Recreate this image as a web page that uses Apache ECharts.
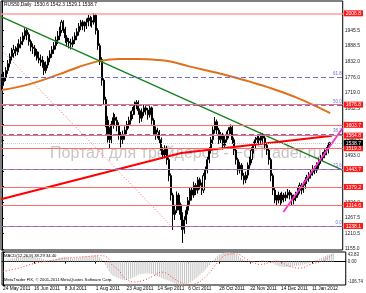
<!DOCTYPE html>
<html><head><meta charset="utf-8">
<script src="https://cdn.jsdelivr.net/npm/echarts@6/dist/echarts.min.js"></script>
<style>html,body{margin:0;padding:0;background:#fff}#c{width:366px;height:293px}</style>
</head><body><div id="c"></div>
<script>
// ---- data ----
const symbolTitle = "RUS50,Daily  1530.6 1542.3 1529.1 1538.7";
const dateLabels = ["24 May 2011","16 Jun 2011","8 Jul 2011","1 Aug 2011","23 Aug 2011","14 Sep 2011","6 Oct 2011","28 Oct 2011","22 Nov 2011","14 Dec 2011","11 Jan 2012"];
const dateTickIdx = [0,16,32,48,64,80,96,112,128,144,160];
const priceTicks = [1945.5,1888.5,1832.0,1776.0,1719.0,1662.5,1606.0,1549.5,1493.0,1436.5,1380.5,1324.0,1267.5,1210.5,1155.0];
const levelLines = [2006.8,1676.8,1603.7,1564.8,1519.3,1443.7,1379.2,1314.6,1238.1];
const fibLevels = [0.0,23.6,38.2,50.0,61.8];
const fibPrices = [1238.1,1443.7,1570.9,1673.7,1776.5];
const lastPrice = 1538.7;
// [open, close, low, high]
const ohlc = [
[1745,1760,1728,1788],[1760,1775,1745,1795],[1775,1800,1762,1812],[1800,1825,1788,1838],[1825,1850,1812,1862],
[1850,1862,1836,1882],[1862,1875,1846,1893],[1875,1870,1852,1888],[1870,1882,1856,1898],[1882,1895,1866,1913],
[1895,1905,1880,1922],[1905,1925,1892,1938],[1925,1945,1912,1953],[1945,1930,1910,1952],[1930,1905,1890,1938],
[1905,1885,1870,1912],[1885,1880,1860,1898],[1880,1868,1850,1892],[1868,1855,1836,1878],[1855,1845,1826,1868],
[1845,1838,1816,1858],[1838,1830,1810,1852],[1830,1800,1784,1838],[1800,1820,1790,1833],[1820,1845,1808,1853],
[1845,1860,1830,1873],[1860,1875,1846,1888],[1875,1890,1860,1903],[1890,1910,1876,1923],[1910,1925,1896,1943],
[1925,1945,1910,1958],[1945,1975,1936,1983],[1975,1950,1936,1982],[1950,1918,1900,1958],[1918,1905,1886,1928],
[1905,1900,1880,1918],[1900,1895,1876,1915],[1895,1910,1884,1923],[1910,1925,1896,1938],[1925,1940,1910,1953],
[1940,1960,1926,1972],[1960,1975,1946,1983],[1975,1965,1946,1982],[1965,1962,1940,1978],[1962,1975,1950,1988],
[1975,1990,1960,2002],[1990,1980,1960,1998],[1980,1975,1955,1993],[1975,2000,1966,2008],[2000,1945,1930,2005],
[1945,1890,1875,1953],[1890,1840,1820,1898],[1840,1765,1745,1848],[1765,1695,1675,1772],[1695,1620,1595,1705],
[1620,1570,1540,1635],[1570,1550,1520,1595],[1550,1605,1535,1618],[1605,1630,1590,1648],[1630,1620,1600,1643],
[1620,1600,1580,1633],[1600,1565,1550,1613],[1565,1550,1522,1578],[1550,1565,1535,1583],[1565,1585,1550,1598],
[1585,1605,1570,1618],[1605,1620,1590,1633],[1620,1640,1605,1653],[1640,1655,1625,1668],[1655,1675,1640,1688],
[1675,1685,1660,1693],[1685,1655,1640,1692],[1655,1628,1610,1663],[1628,1650,1615,1663],[1650,1665,1635,1678],
[1665,1657,1640,1678],[1657,1640,1622,1665],[1640,1665,1630,1678],[1665,1620,1605,1670],[1620,1585,1570,1628],
[1585,1568,1550,1598],[1568,1578,1555,1593],[1578,1550,1535,1585],[1550,1512,1495,1558],[1512,1495,1480,1523],
[1495,1520,1483,1530],[1520,1478,1460,1528],[1478,1420,1400,1485],[1420,1350,1330,1428],[1350,1280,1224,1358],
[1280,1295,1260,1315],[1295,1350,1285,1363],[1350,1315,1295,1358],[1315,1280,1260,1323],[1280,1225,1177,1288],
[1225,1260,1210,1273],[1260,1295,1245,1308],[1295,1330,1280,1343],[1330,1368,1315,1378],[1368,1350,1330,1378],
[1350,1385,1340,1398],[1385,1368,1350,1393],[1368,1405,1355,1415],[1405,1385,1370,1413],[1385,1368,1350,1395],
[1368,1420,1357,1430],[1420,1440,1405,1453],[1440,1478,1428,1488],[1478,1512,1465,1523],[1512,1550,1500,1560],
[1550,1585,1535,1598],[1585,1615,1572,1632],[1615,1585,1570,1623],[1585,1550,1535,1593],[1550,1568,1538,1578],
[1568,1530,1515,1575],[1530,1550,1520,1563],[1550,1568,1540,1580],[1568,1585,1555,1595],[1585,1595,1570,1605],
[1595,1550,1535,1600],[1550,1512,1495,1558],[1512,1478,1460,1520],[1478,1440,1423,1485],[1440,1458,1428,1470],
[1458,1420,1405,1465],[1420,1405,1388,1430],[1405,1422,1393,1435],[1422,1458,1410,1468],[1458,1478,1445,1488],
[1478,1512,1465,1523],[1512,1530,1500,1543],[1530,1550,1518,1560],[1550,1556,1535,1568],[1556,1548,1530,1565],
[1548,1568,1538,1576],[1568,1556,1540,1574],[1556,1530,1515,1563],[1530,1512,1495,1538],[1512,1478,1460,1518],
[1478,1420,1400,1485],[1420,1368,1350,1428],[1368,1340,1320,1375],[1340,1332,1312,1350],[1332,1350,1320,1362],
[1350,1332,1314,1358],[1332,1350,1320,1362],[1350,1340,1324,1358],[1340,1350,1328,1362],[1350,1360,1338,1372],
[1360,1350,1334,1368],[1350,1332,1312,1358],[1332,1340,1316,1352],[1340,1350,1328,1362],[1350,1368,1340,1378],
[1368,1385,1355,1395],[1385,1368,1352,1393],[1368,1385,1358,1398],[1385,1404,1373,1415],[1404,1410,1390,1423],
[1410,1422,1398,1433],[1422,1432,1410,1443],[1432,1446,1420,1458],[1446,1440,1425,1455],[1440,1458,1430,1468],
[1458,1476,1445,1485],[1476,1484,1463,1495],[1484,1495,1473,1505],[1495,1506,1483,1515],[1506,1512,1494,1523],
[1512,1530,1500,1540],[1530.6,1538.7,1529.1,1542.3]
];
// moving average (orange) read at sample bars: [bar, price]
const maPts = [[0,1730],[14.5,1751],[30,1787],[40,1813],[50.6,1834],[61,1842],[71,1842],[81.5,1838],[89,1831],[97,1816],[112.5,1791],[126,1766],[138.3,1740],[153.8,1701],[171,1646]];
const greenLine = [[-0.5,1995],[177.5,1440]];
const redLine = [[-0.5,1335],[93.4,1502],[172,1564]];
const magentaLine = [[146.6,1289],[177.5,1592]];
const fibDiagonal = [[-0.5,1876],[89.3,1230]];
// MACD main (histogram), one per bar
const macdHist = [
2,5,8,10,13,15,17,19,20,21,
22,24,26,27,26,24,22,20,18,16,
14,12,8,6,6,7,9,11,13,16,
19,22,22,20,18,16,15,15,16,18,
20,22,23,24,25,26,27,27,28,26,
20,12,0,-14,-30,-45,-58,-64,-68,-72,
-76,-80,-84,-85,-84,-82,-78,-74,-70,-65,
-60,-58,-57,-55,-54,-54,-55,-55,-58,-62,
-66,-70,-74,-78,-82,-85,-88,-92,-96,-100,
-102,-104,-106,-106,-105,-104,-100,-95,-88,-82,
-75,-68,-60,-52,-45,-36,-26,-15,-4,6,
16,25,32,36,39,41,43,43,42,40,
36,30,24,18,12,6,2,-2,-4,-4,
-2,0,2,4,6,6,5,3,0,-4,
-9,-14,-18,-22,-24,-25,-25,-24,-23,-22,
-21,-20,-19,-18,-16,-14,-12,-10,-8,-5,
-2,2,6,10,14,18,22,26,29,32,
35,38.29
];
// MACD signal (red dotted) read at sample bars
const signalPts = [[0,-45],[8,-30],[16,-9],[25,5],[33,16],[42,22],[50,27],[54,20],[56,-10],[60,-40],[63,-75],[68,-93],[73,-85],[78,-65],[82,-48],[85,-55],[88,-75],[92,-95],[95,-106],[100,-100],[106,-60],[111,-6],[116,32],[121,35],[126,11],[130,-5],[133,-13],[138,-5],[142,3],[148,-20],[154,-30],[159,-13],[166,5],[171,34.4]];
const macdTicks = [43.83, 0, -106.74];

// ---- chart ----
const FONT = 'Liberation Sans, Arial, sans-serif';
const chart = echarts.init(document.getElementById('c'), null, {renderer:'canvas'});
const X0 = -0.5, X1 = 177.5;
const PMIN = 1151.4, PMAX = 2051.3;

const levelMarks = levelLines.map(v => ({yAxis: v, lineStyle: {color: v === 2006.8 ? '#ff9c9c' : '#ff6b6b', width: v === 2006.8 ? 1.5 : 1, type: 'solid'}}));
const fibMarks = fibPrices.map((v, k) => ({yAxis: v, lineStyle: {color: '#6f6fd2', width: 1, type: [5, 3]},
  label: {show: true, position: 'insideEndTop', formatter: fibLevels[k].toFixed(1), color: '#6f6fd2', fontSize: 4.5, fontFamily: FONT, distance: 1}}));
const bidMark = [{yAxis: lastPrice, lineStyle: {color: '#c8c8c8', width: 1, type: 'dotted'}}];

const option = {
  animation: false,
  backgroundColor: '#fff',
  grid: [
    {left: 1, right: 20, top: 1, bottom: 43, show: true, borderColor: '#000', borderWidth: 1, backgroundColor: '#fff'},
    {left: 1, right: 20, top: 252, bottom: 8, show: true, borderColor: '#000', borderWidth: 1, backgroundColor: '#fff'}
  ],
  xAxis: [
    {type: 'value', gridIndex: 0, min: X0, max: X1, show: false},
    {type: 'value', gridIndex: 1, min: X0, max: X1,
     axisLine: {show: true, lineStyle: {color: '#000'}},
     axisTick: {show: true, length: 2, customValues: dateTickIdx, lineStyle: {color: '#000'}},
     axisLabel: {customValues: dateTickIdx, formatter: v => dateLabels[dateTickIdx.indexOf(v)] || '', align: 'left', margin: 1.5, fontSize: 4.8, color: '#000', fontFamily: FONT},
     splitLine: {show: false}}
  ],
  yAxis: [
    {type: 'value', gridIndex: 0, position: 'right', min: PMIN, max: PMAX,
     axisLine: {show: true, lineStyle: {color: '#000'}},
     axisTick: {show: true, length: 2, customValues: priceTicks, lineStyle: {color: '#000'}},
     axisLabel: {customValues: priceTicks, formatter: v => v.toFixed(1), margin: 2, fontSize: 5, color: '#222', fontFamily: FONT},
     splitLine: {show: false}},
    {type: 'value', gridIndex: 0, position: 'right', min: PMIN, max: PMAX, z: 5,
     axisLine: {show: false}, axisTick: {show: false}, splitLine: {show: false},
     axisLabel: {customValues: levelLines.concat([lastPrice]), margin: 1,
       formatter: v => (v === lastPrice ? '{k|' : '{r|') + v.toFixed(1) + '}',
       rich: {
         r: {backgroundColor: '#ff1a1a', color: '#fff', fontSize: 5, fontFamily: FONT, padding: [1, 2, 0, 2]},
         k: {backgroundColor: '#000', color: '#fff', fontSize: 5, fontFamily: FONT, padding: [1, 2, 0, 2]}
       }}},
    {type: 'value', gridIndex: 1, position: 'right', min: -106.74, max: 43.83,
     axisLine: {show: true, lineStyle: {color: '#000'}},
     axisTick: {show: true, length: 2, customValues: macdTicks, lineStyle: {color: '#000'}},
     axisLabel: {customValues: macdTicks, margin: 2,
       formatter: v => v > 0 ? '{t|' + v.toFixed(2) + '}' : (v < 0 ? '{b|' + v.toFixed(2) + '}' : '{m|' + v.toFixed(2) + '}'),
       rich: {
         t: {fontSize: 4.5, color: '#222', fontFamily: FONT, padding: [6, 0, 0, 0]},
         m: {fontSize: 4.5, color: '#222', fontFamily: FONT},
         b: {fontSize: 4.5, color: '#222', fontFamily: FONT, padding: [0, 0, 6, 0]}
       }},
     splitLine: {show: false}}
  ],
  graphic: [
    {type: 'text', left: 4, top: 2, z: 10, style: {text: symbolTitle, fontSize: 4.8, fill: '#000', fontFamily: FONT}},
    {type: 'text', left: 50, top: 146, z: 1, style: {text: 'Портал для трейдеров - ForTrader.ru', fontSize: 16, fill: 'rgba(150,150,150,0.55)', fontFamily: FONT}},
    {type: 'text', left: 4, top: 254, z: 10, style: {text: 'MACD(12,26,9) 38.29 34.40', fontSize: 4.2, fill: '#000', fontFamily: FONT}},
    {type: 'text', left: 4, top: 278, z: 10, style: {text: 'MetaTrader FIX, © 2001-2011 MetaQuotes Software Corp.', fontSize: 4.2, fill: '#000', fontFamily: FONT}}
  ],
  series: [
    {type: 'line', xAxisIndex: 0, yAxisIndex: 0, data: [], silent: true,
     markLine: {silent: true, symbol: ['none', 'none'], animation: false, label: {show: false},
       data: levelMarks.concat(fibMarks, bidMark)}},
    {type: 'line', xAxisIndex: 0, yAxisIndex: 0, data: fibDiagonal, symbol: 'none', silent: true,
     lineStyle: {color: '#ff6a6a', width: 1, type: [1, 2]}},
    {type: 'line', xAxisIndex: 0, yAxisIndex: 0, data: maPts, symbol: 'none', smooth: 0.4, silent: true,
     lineStyle: {color: '#e0701e', width: 2}},
    {type: 'candlestick', xAxisIndex: 0, yAxisIndex: 0, barWidth: 1.6, silent: true,
     encode: {x: 0, y: [1, 2, 3, 4]},
     data: ohlc.map((r, i) => [i, r[0], r[1], r[2], r[3]]),
     itemStyle: {color: '#ffffff', color0: '#000000', borderColor: '#000000', borderColor0: '#000000', borderWidth: 1}},
    {type: 'line', xAxisIndex: 0, yAxisIndex: 0, data: greenLine, symbol: 'none', silent: true,
     lineStyle: {color: '#13801a', width: 1.3}},
    {type: 'line', xAxisIndex: 0, yAxisIndex: 0, data: redLine, symbol: 'none', silent: true,
     lineStyle: {color: '#ff0000', width: 2}},
    {type: 'line', xAxisIndex: 0, yAxisIndex: 0, data: magentaLine, symbol: 'none', silent: true,
     lineStyle: {color: '#ff2bd0', width: 1.8}},
    {type: 'bar', xAxisIndex: 1, yAxisIndex: 2, barWidth: 0.9, silent: true,
     data: macdHist.map((v, i) => [i, v]), itemStyle: {color: '#c4c4c4'}},
    {type: 'line', xAxisIndex: 1, yAxisIndex: 2, data: signalPts, symbol: 'none', smooth: 0.4, silent: true,
     lineStyle: {color: '#ff3a3a', width: 1, type: [1, 2]}}
  ]
};
chart.setOption(option);
</script>
</body></html>
